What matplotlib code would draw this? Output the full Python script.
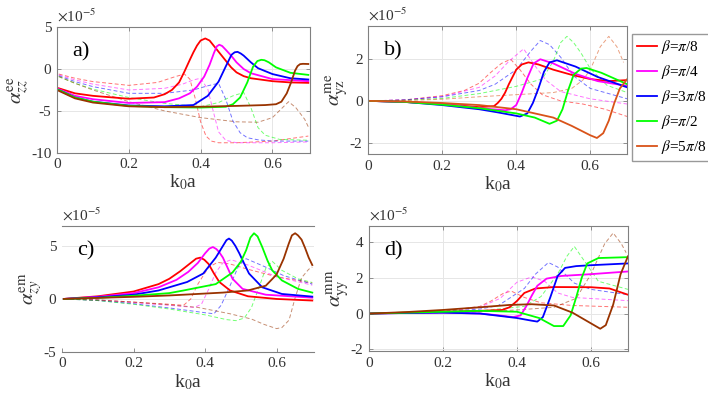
import numpy as np
import matplotlib
matplotlib.use('Agg')
import matplotlib.pyplot as plt

plt.rcParams['font.family'] = ['Liberation Serif', 'DejaVu Serif']
plt.rcParams['mathtext.fontset'] = 'stix'

labels = [r'$\beta$=$\pi$/8', r'$\beta$=$\pi$/4', r'$\beta$=3$\pi$/8',
          r'$\beta$=$\pi$/2', r'$\beta$=5$\pi$/8']

# ---- panel a) alpha_zz^ee (x1e-5)
a_solid_x = [
    [0.005, 0.05, 0.1, 0.2, 0.27, 0.3, 0.32, 0.34, 0.355, 0.37, 0.38, 0.39, 0.4, 0.413, 0.425, 0.44, 0.455,
     0.47, 0.485, 0.5, 0.52, 0.54, 0.6, 0.65, 0.7],
    [0.005, 0.05, 0.1, 0.2, 0.3, 0.34, 0.37, 0.39, 0.41, 0.425, 0.437, 0.445, 0.452, 0.46, 0.47, 0.485,
     0.5, 0.52, 0.54, 0.6, 0.7],
    [0.005, 0.05, 0.1, 0.2, 0.3, 0.38, 0.42, 0.45, 0.47, 0.486, 0.495, 0.503, 0.512, 0.52, 0.54, 0.56,
     0.6, 0.65, 0.7],
    [0.005, 0.05, 0.1, 0.2, 0.3, 0.4, 0.47, 0.49, 0.51, 0.53, 0.546, 0.558, 0.569, 0.578, 0.59, 0.61,
     0.65, 0.7],
    [0.005, 0.05, 0.1, 0.2, 0.3, 0.4, 0.5, 0.58, 0.61, 0.625, 0.64, 0.652, 0.663, 0.67, 0.677, 0.685, 0.7],
]
a_solid_y = [
    [-2.3, -2.9, -3.2, -3.55, -3.4, -3.0, -2.5, -1.6, -0.3, 1.1, 2.0, 2.8, 3.4, 3.65, 3.4, 2.6, 1.8,
     1.0, 0.2, -0.4, -0.85, -1.1, -1.45, -1.6, -1.65],
    [-2.4, -3.2, -3.6, -4.05, -3.95, -3.5, -2.9, -2.1, -0.9, 0.5, 1.9, 2.7, 2.9, 2.75, 2.3, 1.6,
     0.8, 0.0, -0.5, -1.2, -1.45],
    [-2.5, -3.4, -3.9, -4.35, -4.45, -4.3, -3.2, -1.5, 0.3, 1.7, 2.0, 2.05, 1.85, 1.6, 0.8, 0.1,
     -0.6, -1.1, -1.25],
    [-2.5, -3.4, -3.9, -4.4, -4.55, -4.6, -4.5, -4.2, -3.4, -1.6, 0.27, 0.95, 1.1, 1.05, 0.8, 0.2,
     -0.45, -0.7],
    [-2.6, -3.5, -4.0, -4.45, -4.55, -4.5, -4.4, -4.3, -4.2, -3.9, -2.9, -1.6, -0.2, 0.35, 0.58, 0.62, 0.6],
]
a_dash_x = [
    [0.005, 0.05, 0.1, 0.2, 0.28, 0.33, 0.355, 0.37, 0.385, 0.4, 0.415, 0.43, 0.45, 0.5, 0.6, 0.65, 0.7],
    [0.005, 0.05, 0.1, 0.2, 0.3, 0.35, 0.38, 0.4, 0.42, 0.435, 0.45, 0.47, 0.5, 0.6, 0.7],
    [0.005, 0.05, 0.1, 0.2, 0.3, 0.38, 0.42, 0.45, 0.47, 0.49, 0.51, 0.53, 0.56, 0.6, 0.7],
    [0.005, 0.05, 0.1, 0.2, 0.3, 0.4, 0.45, 0.49, 0.52, 0.54, 0.56, 0.58, 0.62, 0.7],
    [0.005, 0.05, 0.1, 0.2, 0.3, 0.4, 0.5, 0.56, 0.6, 0.645, 0.665, 0.69, 0.7],
]
a_dash_y = [
    [-0.6, -1.1, -1.5, -1.95, -1.6, -0.9, -0.6, -1.2, -3.5, -6.3, -8.0, -8.6, -8.8, -8.8, -8.6, -8.3, -8.0],
    [-0.7, -1.3, -1.8, -2.5, -2.3, -1.8, -1.3, -1.1, -2.4, -5.0, -7.5, -8.5, -8.8, -8.8, -8.7],
    [-0.8, -1.5, -2.1, -2.9, -2.9, -2.5, -2.0, -1.7, -3.6, -6.2, -7.6, -8.2, -8.45, -8.6, -8.6],
    [-0.9, -1.7, -2.4, -3.4, -4.1, -4.5, -4.0, -3.2, -2.8, -4.6, -7.0, -7.9, -8.4, -8.5],
    [-0.9, -1.7, -2.5, -3.9, -5.0, -5.8, -6.3, -6.35, -5.8, -3.9, -4.6, -6.0, -6.9],
]

# ---- panel b) alpha_yz^me
b_solid_x = [
    [0.005, 0.1, 0.2, 0.3, 0.34, 0.35, 0.36, 0.37, 0.38, 0.39, 0.4, 0.415, 0.433, 0.46, 0.5, 0.55, 0.6, 0.65, 0.7],
    [0.005, 0.1, 0.2, 0.3, 0.37, 0.385, 0.4, 0.415, 0.43, 0.447, 0.465, 0.5, 0.56, 0.62, 0.7],
    [0.005, 0.1, 0.2, 0.3, 0.35, 0.41, 0.43, 0.445, 0.46, 0.475, 0.49, 0.51, 0.56, 0.62, 0.7],
    [0.005, 0.1, 0.2, 0.3, 0.4, 0.45, 0.49, 0.51, 0.525, 0.54, 0.555, 0.575, 0.59, 0.63, 0.7],
    [0.005, 0.1, 0.2, 0.3, 0.4, 0.5, 0.55, 0.6, 0.618, 0.635, 0.65, 0.665, 0.68, 0.7],
]
b_solid_y = [
    [0, -0.05, -0.15, -0.3, -0.25, -0.1, 0.1, 0.4, 0.8, 1.15, 1.5, 1.75, 1.85, 1.75, 1.5, 1.25, 1.05, 0.95, 1.0],
    [0, -0.05, -0.15, -0.35, -0.45, -0.4, -0.2, 0.4, 1.1, 1.8, 2.0, 1.8, 1.3, 0.95, 0.72],
    [0, -0.05, -0.2, -0.4, -0.55, -0.75, -0.6, -0.1, 0.6, 1.4, 1.85, 1.95, 1.65, 1.15, 0.65],
    [0, -0.05, -0.18, -0.35, -0.6, -0.8, -1.1, -0.95, -0.4, 0.5, 1.25, 1.55, 1.58, 1.35, 0.8],
    [0, -0.03, -0.1, -0.2, -0.4, -0.8, -1.2, -1.65, -1.78, -1.55, -0.95, -0.1, 0.6, 1.05],
]
b_dash_x = [
    [0.005, 0.1, 0.2, 0.26, 0.3, 0.33, 0.36, 0.385, 0.41, 0.44, 0.47, 0.52, 0.58, 0.64, 0.7],
    [0.005, 0.1, 0.2, 0.3, 0.343, 0.38, 0.42, 0.45, 0.48, 0.52, 0.6, 0.7],
    [0.005, 0.1, 0.2, 0.3, 0.343, 0.4, 0.44, 0.465, 0.49, 0.52, 0.555, 0.6, 0.7],
    [0.005, 0.1, 0.2, 0.3, 0.343, 0.4, 0.47, 0.5, 0.52, 0.537, 0.555, 0.575, 0.6, 0.645, 0.7],
    [0.005, 0.1, 0.2, 0.3, 0.4, 0.5, 0.55, 0.58, 0.6, 0.627, 0.65, 0.672, 0.69],
]
b_dash_y = [
    [0, 0.05, 0.25, 0.5, 0.85, 1.35, 1.8, 2.0, 1.5, 0.8, 0.3, 0.0, -0.15, -0.4, -0.75],
    [0, 0.05, 0.2, 0.65, 1.2, 1.9, 2.5, 1.7, 1.0, 0.45, 0.1, -0.15],
    [0, 0.05, 0.2, 0.5, 0.8, 1.5, 2.4, 2.9, 2.7, 2.1, 1.2, 0.6, 0.1],
    [0, 0.03, 0.12, 0.35, 0.5, 0.7, 1.05, 1.9, 2.8, 3.1, 2.8, 2.3, 1.55, 0.75, 0.4],
    [0, 0.02, 0.08, 0.2, 0.3, 0.4, 0.6, 1.0, 1.5, 2.6, 3.1, 2.6, 1.85],
]

# ---- panel c) alpha_zy^em
c_solid_x = [
    [0.005, 0.1, 0.2, 0.27, 0.3, 0.33, 0.36, 0.375, 0.387, 0.398, 0.41, 0.425, 0.44, 0.47, 0.52, 0.6, 0.7],
    [0.005, 0.1, 0.2, 0.27, 0.32, 0.353, 0.38, 0.4, 0.412, 0.422, 0.432, 0.44, 0.45, 0.465, 0.477, 0.505,
     0.57, 0.7],
    [0.005, 0.1, 0.2, 0.27, 0.35, 0.395, 0.43, 0.45, 0.46, 0.467, 0.475, 0.485, 0.496, 0.51, 0.523, 0.56,
     0.615, 0.7],
    [0.005, 0.1, 0.2, 0.3, 0.34, 0.43, 0.477, 0.5, 0.515, 0.527, 0.537, 0.547, 0.56, 0.575, 0.588, 0.615,
     0.66, 0.7],
    [0.005, 0.1, 0.2, 0.3, 0.34, 0.45, 0.52, 0.57, 0.6, 0.62, 0.634, 0.643, 0.652, 0.66, 0.67, 0.68, 0.69, 0.7],
]
c_solid_y = [
    [0, 0.25, 0.7, 1.4, 1.9, 2.6, 3.4, 3.8, 3.9, 3.7, 3.3, 2.4, 1.6, 0.8, 0.25, 0.0, -0.15],
    [0, 0.2, 0.55, 1.1, 1.8, 2.55, 3.4, 4.3, 4.75, 4.9, 4.7, 4.4, 3.9, 2.8, 1.9, 0.95,
     0.4, 0.12],
    [0, 0.15, 0.4, 0.8, 1.6, 2.4, 3.9, 5.0, 5.55, 5.7, 5.5, 5.0, 4.3, 3.3, 2.4, 1.1,
     0.47, 0.22],
    [0, 0.1, 0.3, 0.55, 0.8, 1.4, 2.5, 3.5, 4.6, 5.8, 6.2, 5.9, 4.9, 3.6, 2.7, 1.75,
     0.95, 0.6],
    [0, 0.1, 0.2, 0.33, 0.4, 0.6, 0.8, 1.25, 2.3, 3.8, 5.2, 6.0, 6.2, 6.0, 5.6, 4.8, 3.9, 3.2],
]
c_dash_x = [
    [0.005, 0.1, 0.2, 0.3, 0.34, 0.36, 0.38, 0.41, 0.435, 0.47, 0.52, 0.6, 0.7],
    [0.005, 0.1, 0.2, 0.3, 0.37, 0.39, 0.41, 0.43, 0.45, 0.473, 0.52, 0.6, 0.7],
    [0.005, 0.1, 0.2, 0.3, 0.4, 0.425, 0.445, 0.468, 0.495, 0.515, 0.57, 0.62, 0.7],
    [0.005, 0.1, 0.2, 0.3, 0.4, 0.46, 0.487, 0.51, 0.53, 0.55, 0.57, 0.588, 0.615, 0.66, 0.7],
    [0.005, 0.1, 0.2, 0.3, 0.38, 0.47, 0.53, 0.565, 0.6, 0.615, 0.635, 0.652, 0.67, 0.69, 0.7],
]
c_dash_y = [
    [0, -0.1, -0.3, -0.5, -0.6, 0.0, 1.4, 3.0, 3.45, 3.3, 2.8, 2.1, 1.5],
    [0, -0.1, -0.35, -0.6, -0.8, -0.5, 0.9, 2.5, 3.4, 3.7, 3.2, 2.1, 1.3],
    [0, -0.15, -0.45, -0.85, -1.3, -1.4, -0.6, 1.1, 3.2, 3.8, 3.0, 2.2, 1.4],
    [0, -0.15, -0.5, -0.95, -1.5, -1.95, -2.05, -1.8, -0.8, 1.0, 2.9, 3.55, 2.7, 1.9, 1.55],
    [0, -0.1, -0.3, -0.55, -0.8, -1.4, -1.9, -2.4, -2.8, -2.7, -2.0, 0.1, 2.0, 2.8, 3.0],
]

# ---- panel d) alpha_yy^mm
d_solid_x = [
    [0.005, 0.1, 0.2, 0.3, 0.36, 0.38, 0.4, 0.42, 0.45, 0.5, 0.6, 0.65, 0.7],
    [0.005, 0.1, 0.2, 0.3, 0.35, 0.39, 0.41, 0.425, 0.44, 0.455, 0.48, 0.52, 0.6, 0.7],
    [0.005, 0.1, 0.2, 0.3, 0.4, 0.44, 0.455, 0.47, 0.49, 0.51, 0.53, 0.56, 0.6, 0.7],
    [0.005, 0.1, 0.2, 0.3, 0.4, 0.46, 0.5, 0.525, 0.545, 0.56, 0.575, 0.59, 0.62, 0.7],
    [0.005, 0.1, 0.2, 0.3, 0.38, 0.44, 0.5, 0.55, 0.6, 0.625, 0.64, 0.66, 0.68, 0.7],
]
d_solid_y = [
    [0, 0.05, 0.1, 0.15, 0.2, 0.35, 0.7, 1.15, 1.4, 1.48, 1.47, 1.4, 1.05],
    [0, 0.03, 0.05, 0.0, -0.1, -0.2, -0.1, 0.4, 1.0, 1.55, 1.95, 2.1, 2.2, 2.35],
    [0, 0.03, 0.05, 0.0, -0.25, -0.4, -0.45, -0.2, 0.9, 2.1, 2.55, 2.65, 2.7, 2.8],
    [0, 0.05, 0.1, 0.15, 0.1, -0.25, -0.7, -0.7, -0.1, 0.9, 2.0, 2.8, 3.1, 3.15],
    [0, 0.08, 0.2, 0.35, 0.48, 0.52, 0.45, 0.05, -0.55, -0.85, -0.65, 0.5, 2.2, 3.2],
]
d_dash_x = [
    [0.005, 0.1, 0.2, 0.3, 0.33, 0.365, 0.385, 0.42, 0.465, 0.55, 0.7],
    [0.005, 0.1, 0.2, 0.3, 0.355, 0.4, 0.44, 0.475, 0.51, 0.55, 0.7],
    [0.005, 0.1, 0.2, 0.3, 0.35, 0.42, 0.45, 0.485, 0.51, 0.555, 0.6, 0.7],
    [0.005, 0.1, 0.2, 0.3, 0.42, 0.465, 0.51, 0.535, 0.555, 0.58, 0.62, 0.7],
    [0.005, 0.1, 0.2, 0.3, 0.4, 0.5, 0.56, 0.6, 0.637, 0.66, 0.682, 0.695],
]
d_dash_y = [
    [0, 0.03, 0.12, 0.4, 0.7, 1.15, 1.25, 0.9, 0.6, 0.45, 0.35],
    [0, 0.03, 0.1, 0.35, 0.85, 1.75, 2.05, 1.8, 1.15, 0.9, 0.72],
    [0, 0.03, 0.1, 0.25, 0.45, 1.4, 2.2, 2.85, 2.6, 1.7, 1.35, 1.05],
    [0, 0.02, 0.07, 0.15, 0.4, 0.95, 2.2, 3.2, 3.75, 3.0, 1.8, 1.35],
    [0, 0.02, 0.05, 0.1, 0.2, 0.35, 0.85, 2.2, 3.9, 4.5, 3.9, 3.4],
]

colors = ['#FF0000', '#FF00FF', '#0000FF', '#00FF00', '#993300']
colors_b = ['#FF0000', '#FF00FF', '#0000FF', '#00FF00', '#D95319']

fig = plt.figure(figsize=(7.08, 3.99), dpi=100)

panels = [
    # rect, data, ylim, yticks, ylabel, tag, colors
    ([0.0805, 0.617, 0.3575, 0.315], (a_solid_x, a_solid_y, a_dash_x, a_dash_y), (-10, 5), [-10, -5, 0, 5],
     r'$\alpha^{\rm ee}_{zz}$', 'a)', colors),
    ([0.520, 0.614, 0.366, 0.321], (b_solid_x, b_solid_y, b_dash_x, b_dash_y), (-2.55, 3.6), [-2, 0, 2],
     r'$\alpha^{\rm me}_{\rm yz}$', 'b)', colors_b),
    ([0.0876, 0.118, 0.356, 0.316], (c_solid_x, c_solid_y, c_dash_x, c_dash_y), (-5, 6.9), [-5, 0, 5],
     r'$\alpha^{\rm em}_{zy}$', 'c)', colors),
    ([0.521, 0.120, 0.366, 0.314], (d_solid_x, d_solid_y, d_dash_x, d_dash_y), (-2.1, 4.9), [-2, 0, 2, 4],
     r'$\alpha^{\rm mm}_{\rm yy}$', 'd)', colors),
]

gray = '#808080'
handles = None
for k, (rect, data, ylim, yticks, ylab, tag, cols) in enumerate(panels):
    ax = fig.add_axes(rect)
    sx, sy, dx, dy = data
    for i in range(5):
        ax.plot(dx[i], dy[i], color=cols[i], lw=0.7, alpha=0.55, dashes=(4, 2.5))
    hs = []
    for i in range(5):
        h, = ax.plot(sx[i], sy[i], color=cols[i], lw=1.3, label=labels[i])
        hs.append(h)
    if k == 1:
        handles = hs
    ax.set_xlim(0, 0.705 if k in (0, 2) else 0.7)
    ax.set_ylim(*ylim)
    ax.set_xticks([0, 0.2, 0.4, 0.6])
    ax.set_xticklabels(['0', '0.2', '0.4', '0.6'])
    ax.set_yticks(yticks)
    ax.set_yticklabels([str(t) for t in yticks])
    ax.tick_params(direction='in', length=3, width=0.6, colors=gray, labelcolor='#333333',
                   labelsize=11, top=True, right=True, pad=4)
    if k == 2:
        ax.grid(True, axis='y', color='#e6e6e6', lw=0.7)
        ax.spines['left'].set_visible(False)
        ax.spines['right'].set_visible(False)
        ax.tick_params(left=False, right=False, top=False)
    else:
        ax.grid(True, color='#e6e6e6', lw=0.7)
    ax.set_axisbelow(True)
    for s in ax.spines.values():
        s.set_color(gray)
        s.set_linewidth(0.8)
    ax.set_xlabel(r'k$_0$a', fontsize=14, color='#333333', labelpad=1)
    ax.set_ylabel(ylab, fontsize=15, color='#333333', labelpad=0)
    ax.text(0.06, 0.88, tag, transform=ax.transAxes, fontsize=16, va='top', ha='left',
            color='black', zorder=5)
    ax.text(0.0, 1.02, r'$\times$10$^{-5}$', transform=ax.transAxes, fontsize=11,
            color='#333333', va='bottom', ha='left')

fig.legend(handles=handles, labels=labels, loc='upper left',
           bbox_to_anchor=(0.893, 0.915), fontsize=11, frameon=True, fancybox=False,
           edgecolor='#808080', handlelength=1.3, handletextpad=0.25, borderpad=0.3,
           labelspacing=0.45, borderaxespad=0)

fig.savefig('out.png', dpi=100)
